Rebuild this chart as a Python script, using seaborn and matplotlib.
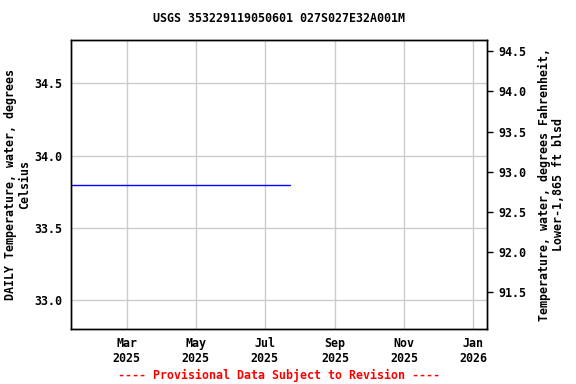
import matplotlib
matplotlib.use("Agg")
import matplotlib.pyplot as plt
import matplotlib.dates as mdates
import seaborn as sns
import pandas as pd
import numpy as np

title = "USGS 353229119050601 027S027E32A001M"
dates = ["2025-01-11", "2025-07-23"]
temps_c = [33.8, 33.8]
left_ticks = [33.0, 33.5, 34.0, 34.5]
right_ticks = [91.5, 92.0, 92.5, 93.0, 93.5, 94.0, 94.5]
x_ticks = ["2025-03-01", "2025-05-01", "2025-07-01", "2025-09-01", "2025-11-01", "2026-01-01"]
x_labels = ["Mar\n2025", "May\n2025", "Jul\n2025", "Sep\n2025", "Nov\n2025", "Jan\n2026"]

sns.set_theme(style="white")
plt.rcParams['font.family'] = ['DejaVu Sans Mono', 'DejaVu Sans']
plt.rcParams['font.weight'] = 'bold'
plt.rcParams['text.color'] = 'black'
plt.rcParams['axes.labelcolor'] = 'black'
plt.rcParams['xtick.color'] = 'black'
plt.rcParams['ytick.color'] = 'black'

FS = 8.4

df = pd.DataFrame({"date": pd.to_datetime(dates), "temp": temps_c})

fig = plt.figure(figsize=(5.76, 3.84), dpi=100)
ax = fig.add_axes([71/576, 1-329/384, (487-71)/576, (329-40)/384])
sns.lineplot(data=df, x="date", y="temp", ax=ax, color="#0000ff", linewidth=1)

ax.set_xlim(pd.Timestamp("2025-01-11"), pd.Timestamp("2026-01-13"))
ax.set_ylim(32.8, 34.8)
ax.set_yticks(left_ticks)
ax.set_yticklabels([f"{v:.1f}" for v in left_ticks], fontsize=FS, fontweight='bold')
ax.set_xticks(pd.to_datetime(x_ticks))
ax.set_xticklabels(x_labels, fontsize=FS, fontweight='bold')
ax.tick_params(axis='both', length=0, pad=6)
ax.grid(True, color="#cccccc", linewidth=1)
ax.set_xlabel("")
ax.set_ylabel("DAILY Temperature, water, degrees\nCelsius", fontsize=FS, fontweight='bold', linespacing=1.1)
ax.yaxis.set_label_coords((31-71)/416, 0.5)
for s in ax.spines.values():
    s.set_color("black")
    s.set_linewidth(1)

ax2 = ax.twinx()
ax2.set_ylim(32.8 * 9 / 5 + 32, 34.8 * 9 / 5 + 32)
ax2.set_yticks(right_ticks)
ax2.set_yticklabels([f"{v:.1f}" for v in right_ticks], fontsize=FS, fontweight='bold')
ax2.tick_params(axis='y', length=4, width=1, color='black', direction='out', pad=4)
ax2.set_ylabel("Temperature, water, degrees Fahrenheit,\nLower-1,865 ft blsd", fontsize=FS, fontweight='bold', linespacing=1.1)
ax2.yaxis.set_label_coords((538-487)/416 + 1, 0.5)
ax2.grid(False)
for s in ax2.spines.values():
    s.set_color("black")
    s.set_linewidth(1)

fig.text((71+487)/2/576, 1-19/384, title, ha='center', va='center', fontsize=FS, fontweight='bold')
fig.text((71+487)/2/576, 1-375/384, "---- Provisional Data Subject to Revision ----", ha='center', va='center',
         fontsize=FS, fontweight='bold', color='red')

fig.savefig("out.png", dpi=100)
